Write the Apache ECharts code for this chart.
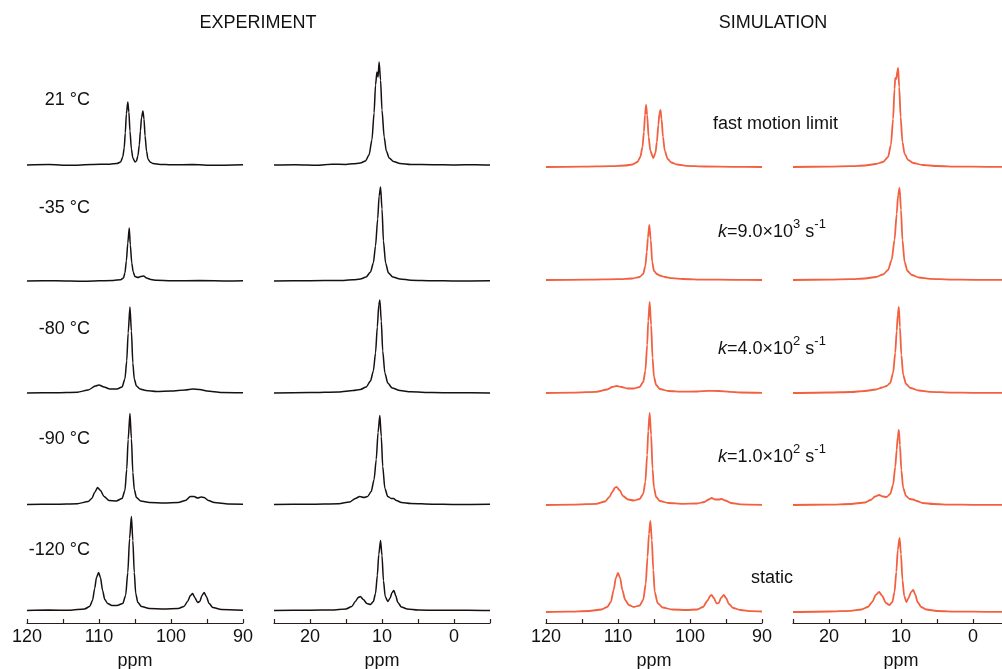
<!DOCTYPE html>
<html>
<head>
<meta charset="utf-8">
<script src="https://cdn.jsdelivr.net/npm/echarts@6/dist/echarts.min.js"></script>
<style>
  html, body { margin: 0; padding: 0; background: #fff; }
  #chart { width: 1002px; height: 669px; }
</style>
</head>
<body>
<div id="chart"></div>
<script>
// spectra: [ppm, intensity above baseline]
var exp21L = [[120,0],[117,0.4],[114,-0.3],[111,0.5],[108.5,0.8],[107.5,1.5],[107,3],[106.7,8],[106.5,17],[106.35,32],[106.2,51],[106.0,63],[105.85,53],[105.7,34],[105.5,16],[105.3,7],[105.0,3],[104.8,4],[104.6,9],[104.4,20],[104.25,34],[104.1,47],[103.9,54],[103.75,46],[103.6,29],[103.4,14],[103.2,6],[102.9,3],[102.5,1.5],[101.5,0.6],[100,0.2],[97,0.4],[94,-0.2],[90,0.3]];
var exp35L = [[120,0],[116,0.3],[112,-0.2],[108,0.6],[107,1.2],[106.6,3],[106.4,8],[106.2,20],[106.0,38],[105.8,53],[105.65,36],[105.45,18],[105.25,9],[105,4.5],[104.6,3.5],[104.2,4.5],[103.8,5],[103.4,3],[102.8,1.5],[102,0.7],[100,0.2],[96,0.4],[92,0],[90,0.2]];
var exp80L = [[120,0],[116,0.3],[113,0.8],[111.5,3],[110.5,7],[110,8],[109.3,6],[108.5,4],[107.5,4],[106.8,6],[106.4,14],[106.15,32],[105.95,60],[105.7,86],[105.5,62],[105.3,30],[105.1,14],[104.8,7],[104.3,4],[103.5,2.5],[102,1.5],[100,2],[98,3],[97,4],[96,3.5],[95,2],[93,0.5],[90,0.2]];
var exp90L = [[120,0],[116,0.3],[113,0.8],[111.5,3],[111,6],[110.6,12],[110.2,17],[109.8,14],[109.3,8],[108.6,4],[107.6,3.5],[106.8,6],[106.4,14],[106.15,35],[105.95,65],[105.7,91],[105.5,66],[105.3,32],[105.1,15],[104.8,7],[104.2,3.5],[103,2],[101,1.5],[99,2],[98,4],[97.3,8],[96.8,8],[96.3,6.5],[95.8,7.5],[95.4,7],[94.8,4],[94,2],[92,0.5],[90,0.3]];
var exp120L = [[120,0],[117,0.4],[114,0.3],[112,1.5],[111.3,4],[110.9,10],[110.6,22],[110.35,33],[110.05,38],[109.8,33],[109.5,20],[109.2,11],[108.8,7],[108.2,5],[107.5,5],[106.7,7],[106.3,15],[106.0,38],[105.75,72],[105.5,94],[105.3,70],[105.1,38],[104.9,17],[104.6,8],[104.1,4],[103,2],[101,1.5],[99,2],[98.2,4],[97.7,9],[97.3,15],[97.0,17],[96.7,13],[96.3,8],[96.0,9],[95.7,15],[95.4,18],[95.1,14],[94.7,7],[94.2,3],[93,1],[90,0.3]];

var exp21R = [[25,0],[22,0.3],[19,-0.2],[17,0.8],[15,0.6],[14,1.2],[13,2],[12.3,4],[11.8,10],[11.4,25],[11.1,52],[10.9,80],[10.7,93],[10.55,88],[10.4,103],[10.2,85],[10.0,55],[9.7,28],[9.4,14],[9.0,7],[8.4,3.5],[7.5,1.5],[6,0.5],[3,0.3],[0,0],[-3,0.3],[-5,0]];
var exp35R = [[25,0],[20,0.3],[16,0.5],[14,1.2],[13,2],[12.2,4],[11.6,9],[11.2,18],[10.9,35],[10.6,62],[10.4,85],[10.2,94],[10.0,72],[9.8,40],[9.5,18],[9.1,8],[8.5,4],[7.5,2],[6,0.8],[3,0.3],[0,0],[-5,0.2]];
var exp80R = [[25,0],[20,0.4],[16,1],[14,2.5],[13,3.5],[12.2,6],[11.6,12],[11.2,22],[10.9,40],[10.65,66],[10.45,88],[10.3,93],[10.1,72],[9.9,42],[9.6,20],[9.2,10],[8.6,5],[7.5,2.5],[6,1.2],[3,0.4],[0,0.2],[-5,0]];
var exp90R = [[25,0],[20,0.3],[16,0.8],[14.5,2.5],[13.7,6],[13.1,8],[12.5,7],[12.0,8],[11.5,13],[11.1,25],[10.8,45],[10.55,72],[10.3,89],[10.1,68],[9.9,38],[9.6,16],[9.2,8],[8.7,6],[8.4,6],[8.0,4],[7.3,2],[6,1],[3,0.3],[0,0],[-5,0.2]];
var exp120R = [[25,0],[20,0.3],[17,0.5],[15,1.5],[14.2,4],[13.7,9],[13.3,13],[13.0,14],[12.6,11],[12.1,7],[11.6,6],[11.2,9],[10.9,17],[10.65,35],[10.45,56],[10.2,70],[10.0,55],[9.8,30],[9.55,14],[9.2,9],[8.9,12],[8.6,18],[8.35,20],[8.1,15],[7.8,8],[7.3,3.5],[6.5,1.5],[5,0.5],[2,0.2],[-2,0.3],[-5,0]];

var simFastL = [[120,0],[115,0.3],[111,0.8],[109,1.5],[108,2.5],[107.3,5],[106.9,10],[106.6,20],[106.4,35],[106.25,52],[106.1,62],[105.95,52],[105.75,30],[105.5,16],[105.1,9],[104.8,14],[104.6,25],[104.4,42],[104.25,53],[104.1,57],[103.95,48],[103.75,30],[103.5,16],[103.1,8],[102.6,4.5],[101.8,2.5],[100.5,1.2],[98,0.5],[94,0.2],[90,0]];
var simK9e3L = [[120,0],[114,0.3],[110,0.8],[108,1.5],[107,3],[106.5,6],[106.2,14],[106.0,28],[105.85,42],[105.65,55],[105.45,40],[105.25,18],[105.0,9],[104.6,6],[104.2,4.5],[103.5,3],[102.5,1.8],[101,1],[98,0.4],[94,0.2],[90,0]];
var simK4e2L = [[120,0],[116,0.4],[113,1.2],[111.5,3.5],[110.8,6],[110.2,7],[109.5,6],[108.7,4.5],[107.8,4.5],[107,6],[106.5,11],[106.2,22],[105.95,48],[105.8,72],[105.6,91],[105.4,68],[105.2,35],[105.0,16],[104.7,8],[104.2,4],[103,2],[101,1.3],[99,1.5],[97.5,2.2],[96,2],[94.5,1.2],[93,0.5],[90,0.2]];
var simK1e2L = [[120,0],[116,0.4],[113,1.2],[111.8,3.5],[111.2,8],[110.8,13],[110.4,17.5],[110.2,18],[109.8,15],[109.3,9],[108.6,5.5],[107.8,4.5],[107,6],[106.5,11],[106.2,23],[105.95,50],[105.8,74],[105.6,92],[105.4,70],[105.2,36],[105.0,17],[104.7,8],[104.2,4],[103,2],[101,1.2],[99,1.5],[98,3],[97.4,5.5],[97.0,7],[96.5,5.5],[96.0,5.5],[95.6,6],[95.1,4.5],[94.3,2],[93,0.7],[90,0.2]];
var simStaticL = [[120,0],[117,0.4],[114,1],[112.3,2.5],[111.5,5],[111.0,10],[110.6,22],[110.3,34],[110.0,39],[109.7,34],[109.4,22],[109.0,12],[108.5,7],[107.8,5],[107.0,6.5],[106.5,12],[106.15,28],[105.9,55],[105.7,78],[105.5,91],[105.3,72],[105.1,42],[104.9,20],[104.5,9],[103.8,4.5],[102.5,2.5],[100.5,2],[99,2.5],[98.2,5],[97.6,11],[97.2,16],[97.0,17],[96.7,14],[96.3,8.5],[96.0,9],[95.7,14],[95.3,17],[95.0,14],[94.6,8],[94.0,4],[93,2],[91.5,0.8],[90,0.5]];

var simFastR = [[25,0],[20,0.4],[17,0.8],[15,1.5],[13.5,3],[12.5,5],[11.8,10],[11.4,22],[11.1,48],[10.9,78],[10.8,89],[10.65,88],[10.5,96],[10.4,99],[10.25,80],[10.05,50],[9.8,25],[9.5,13],[9.0,7],[8.3,4],[7,2],[5,1],[2,0.4],[-2,0.2],[-5,0]];
var simK9e3R = [[25,0],[20,0.4],[17,0.8],[15,1.5],[13.5,3],[12.5,5.5],[11.8,10],[11.3,20],[10.9,40],[10.6,66],[10.4,85],[10.2,92],[10.0,70],[9.8,40],[9.5,18],[9.1,9],[8.5,5],[7.5,2.5],[6,1.2],[3,0.4],[0,0.2],[-5,0]];
var simK4e2R = [[25,0],[20,0.5],[17,1],[15,2],[13.5,3.5],[12.6,5.5],[12.0,7],[11.5,10],[11.1,20],[10.8,40],[10.6,62],[10.45,78],[10.3,86],[10.15,66],[9.95,38],[9.7,18],[9.3,9],[8.7,5],[7.5,2.5],[6,1.2],[3,0.4],[0,0.2],[-5,0]];
var simK1e2R = [[25,0],[20,0.4],[17,1],[15,2.5],[14.2,5],[13.6,8.5],[13.05,10],[12.5,8.5],[12.0,8],[11.5,11],[11.1,20],[10.8,38],[10.6,55],[10.45,68],[10.3,75],[10.15,60],[9.95,35],[9.7,17],[9.3,9],[8.8,6],[8.3,5.5],[7.8,4],[7,2],[5.5,1],[3,0.4],[0,0.2],[-5,0]];
var simStaticR = [[25,0],[20,0.5],[17,1.2],[15.5,2.5],[14.6,5],[14.0,10],[13.5,17],[13.05,20],[12.6,16],[12.1,9],[11.6,7],[11.2,10],[10.9,20],[10.65,40],[10.45,62],[10.2,74],[10.0,58],[9.8,32],[9.55,16],[9.25,10],[8.95,14],[8.6,20],[8.3,22],[8.0,17],[7.7,10],[7.2,5],[6.5,2.5],[5,1],[2,0.4],[-2,0.2],[-5,0]];

var tempLabels = ['21 °C', '-35 °C', '-80 °C', '-90 °C', '-120 °C'];
var simLabels = ['fast motion limit', '{i|k}=9.0×10{s|3} s{s|-1}', '{i|k}=4.0×10{s|2} s{s|-1}', '{i|k}=1.0×10{s|2} s{s|-1}', 'static'];

var expLeft = [exp21L, exp35L, exp80L, exp90L, exp120L];
var expRight = [exp21R, exp35R, exp80R, exp90R, exp120R];
var simLeft = [simFastL, simK9e3L, simK4e2L, simK1e2L, simStaticL];
var simRight = [simFastR, simK9e3R, simK4e2R, simK1e2R, simStaticR];

// vertical offsets of each stacked trace (y axis runs 1 unit per pixel)
var expOff = [458, 342, 230, 118.5, 12.5];
var simOff = [456, 343, 230, 118, 11];

var FONT = 'Liberation Sans, Arial, Helvetica, sans-serif';
var EXP_COLOR = '#161010';
var SIM_COLOR = '#f2603f';

function makeX(idx, min, max) {
  return {
    gridIndex: idx, type: 'value', min: min, max: max, interval: 5, inverse: true,
    name: 'ppm', nameLocation: 'middle', nameGap: 29,
    nameTextStyle: { fontSize: 18, color: '#111', fontFamily: FONT },
    axisLine: { onZero: false, lineStyle: { color: '#2a1f1a', width: 1.2 } },
    axisTick: { inside: true, length: 4, lineStyle: { color: '#2a1f1a', width: 1.2 } },
    axisLabel: {
      margin: 5, fontSize: 18, color: '#111', fontFamily: FONT,
      formatter: function (v) { return v % 10 === 0 ? String(v) : ''; }
    },
    splitLine: { show: false }
  };
}
function makeY(idx) {
  return { gridIndex: idx, type: 'value', min: 0, max: 563, show: false, splitLine: { show: false } };
}
function trace(pts, off, gi, color, w) {
  return {
    type: 'line', xAxisIndex: gi, yAxisIndex: gi, silent: true,
    data: pts.map(function (p) { return [p[0], p[1] + off]; }),
    symbol: 'none', smooth: 0.25, smoothMonotone: 'x',
    lineStyle: { color: color, width: w }
  };
}

var series = [];
for (var r = 0; r < 5; r++) {
  series.push(trace(expLeft[r], expOff[r], 0, EXP_COLOR, 1.5));
  series.push(trace(expRight[r], expOff[r], 1, EXP_COLOR, 1.5));
  series.push(trace(simLeft[r], simOff[r], 2, SIM_COLOR, 1.8));
  series.push(trace(simRight[r], simOff[r], 3, SIM_COLOR, 1.8));
}

var tempY = [100, 208, 329, 439, 550];
var simPos = [[713, 124], [718, 232], [718, 349], [718, 457], [751, 578]];
var graphics = [
  { type: 'text', x: 258, y: 23, style: { text: 'EXPERIMENT', font: '18px ' + FONT, fill: '#111', textAlign: 'center', align: 'center', textVerticalAlign: 'middle', verticalAlign: 'middle' } },
  { type: 'text', x: 773, y: 23, style: { text: 'SIMULATION', font: '18px ' + FONT, fill: '#111', textAlign: 'center', align: 'center', textVerticalAlign: 'middle', verticalAlign: 'middle' } }
];
tempLabels.forEach(function (t, i) {
  graphics.push({ type: 'text', x: 90, y: tempY[i], style: { text: t, font: '18px ' + FONT, fill: '#111', textAlign: 'right', align: 'right', textVerticalAlign: 'middle', verticalAlign: 'middle' } });
});
simLabels.forEach(function (t, i) {
  graphics.push({ type: 'text', x: simPos[i][0], y: simPos[i][1], style: {
    text: t, fontSize: 18, fontFamily: FONT, fill: '#111', textAlign: 'left', align: 'left',
    textVerticalAlign: 'middle', verticalAlign: 'middle', lineHeight: 28,
    rich: {
      i: { fontSize: 18, fontStyle: 'italic', fontFamily: FONT, fill: '#111', lineHeight: 28 },
      s: { fontSize: 13, fontFamily: FONT, fill: '#111', verticalAlign: 'top', lineHeight: 14 }
    }
  } });
});

var gridBase = { top: 60, bottom: 46, containLabel: false, outerBoundsMode: 'none' };
function makeGrid(left) {
  return Object.assign({ left: left, width: 216 }, gridBase);
}

var chart = echarts.init(document.getElementById('chart'));
chart.setOption({
  animation: false,
  backgroundColor: '#fff',
  textStyle: { fontFamily: FONT },
  grid: [makeGrid(27), makeGrid(274), makeGrid(546), makeGrid(793)],
  xAxis: [makeX(0, 90, 120), makeX(1, -5, 25), makeX(2, 90, 120), makeX(3, -5, 25)],
  yAxis: [makeY(0), makeY(1), makeY(2), makeY(3)],
  series: series,
  graphic: graphics
});
</script>
</body>
</html>
